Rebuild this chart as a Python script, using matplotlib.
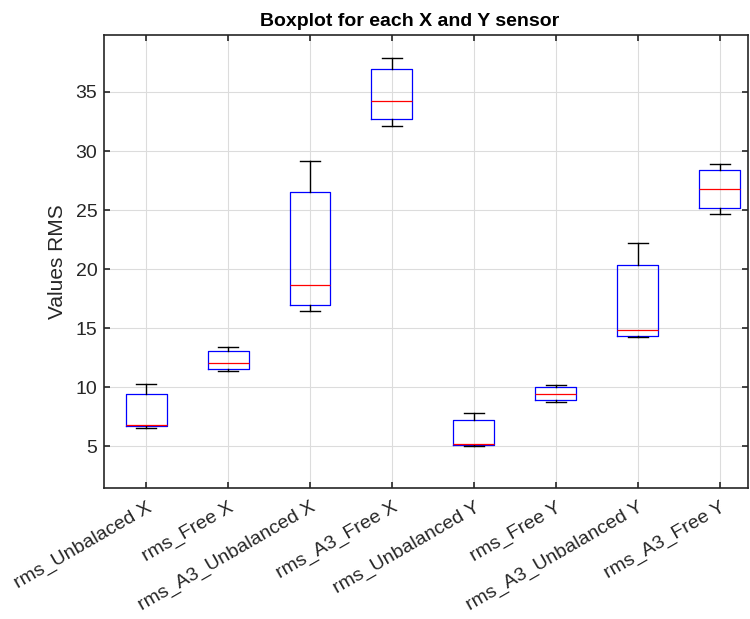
import matplotlib.pyplot as plt

plt.rcParams['font.family'] = ['Liberation Sans', 'DejaVu Sans']

labels = ['rms_Unbalaced X', 'rms_Free X', 'rms_A3_Unbalanced X', 'rms_A3_Free X',
          'rms_Unbalanced Y', 'rms_Free Y', 'rms_A3_Unbalanced Y', 'rms_A3_Free Y']
whislo = [6.60, 11.37, 16.44, 32.16, 5.03, 8.72, 14.27, 24.67]
q1 = [6.69, 11.57, 17.00, 32.69, 5.08, 8.91, 14.38, 25.18]
med = [6.83, 12.10, 18.67, 34.22, 5.23, 9.45, 14.86, 26.75]
q3 = [9.42, 13.06, 26.50, 36.98, 7.22, 10.01, 20.38, 28.36]
whishi = [10.30, 13.39, 29.12, 37.88, 7.85, 10.18, 22.22, 28.87]

stats = []
for i in range(len(labels)):
    stats.append({'label': labels[i], 'whislo': whislo[i], 'q1': q1[i], 'med': med[i],
                  'q3': q3[i], 'whishi': whishi[i], 'fliers': []})

fig = plt.figure(figsize=(7.5, 6.19), dpi=100)
ax = fig.add_axes([0.139, 0.212, 0.858, 0.731])
ax.bxp(stats, widths=0.5, showfliers=False,
       boxprops=dict(color='blue', linewidth=0.9),
       medianprops=dict(color='red', linewidth=0.9),
       whiskerprops=dict(color='black', linewidth=1.0),
       capprops=dict(color='black', linewidth=1.0),
       capwidths=0.25)

ax.set_xlim(0.49, 8.34)
ax.set_ylim(1.5, 39.8)
ax.set_yticks([5, 10, 15, 20, 25, 30, 35])
ax.set_xticklabels(labels, rotation=30, ha='right', rotation_mode='anchor', fontsize=14)
ax.tick_params(axis='y', labelsize=14, pad=5)
ax.tick_params(axis='x', pad=8)
ax.tick_params(direction='in', top=True, right=True, length=4, width=1.2, colors='#262626')
ax.grid(True, color='#dcdcdc', linewidth=0.8)
ax.set_axisbelow(True)
for s in ax.spines.values():
    s.set_color('#262626')
    s.set_linewidth(1.2)

ax.set_ylabel('Values RMS', fontsize=15, color='#262626', labelpad=6)
ax.set_title('Boxplot for each X and Y sensor', fontsize=14, fontweight='bold', pad=7, x=0.475)

fig.savefig('out.png', dpi=100)
